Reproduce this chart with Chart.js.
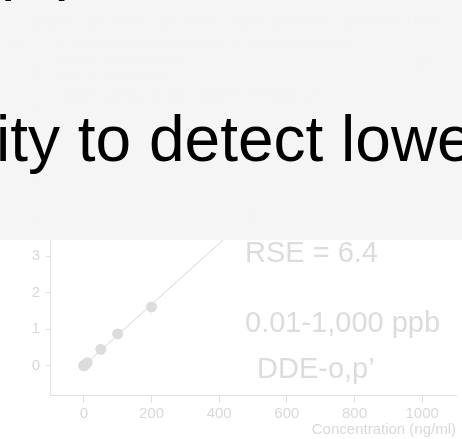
<!DOCTYPE html>
<html>
<head>
<meta charset="utf-8">
<script src="https://cdn.jsdelivr.net/npm/chart.js@4/dist/chart.umd.min.js"></script>
<style>
  html, body { margin:0; padding:0; background:#ffffff; overflow:hidden; }
  #wrap { position:relative; width:462px; height:439px; overflow:hidden; background:#fff; }
  canvas { position:absolute; left:0; top:0; }
  #overlay { position:absolute; left:0; top:0; width:462px; height:240px; background:rgba(244,244,244,0.95); overflow:hidden; }
  .sub { position:absolute; white-space:nowrap; font-family:"Liberation Sans", Arial, sans-serif; font-size:64px; line-height:64px; color:#000; }
</style>
</head>
<body>
<div id="wrap">
  <canvas id="c" width="462" height="439"></canvas>
  <div id="overlay">
    <div class="sub" id="line1" style="left:1px; top:-66px;">p peculiar in the lab, that improves</div>
    <div class="sub" id="line2" style="left:-4px; top:107px;">ity to detect lower</div>
  </div>
</div>
<script>
// ---- data ----
const concentrations = [0.01, 0.1, 1, 5, 10, 50, 100, 200, 500, 1000];
const responses      = [0.0, 0.0, 0.01, 0.04, 0.08, 0.45, 0.87, 1.61, 4.15, 8.27];
const fitX = [0.01, 1100];
const fitY = [0.0, 9.2];
const xTicks = [0, 200, 400, 600, 800, 1000];
const yTicks = [0, 1, 2, 3, 4, 5, 6, 7, 8];
const headerTitle = "...ample - 10 Levels, 10 Levels Used, 10 Points, 10 Points Used,";
const equationLines = ["y = 8.3525807219E-003 * x + 0.0145523086", "R^2 = 0.99898458", "R = 0.99949204", "Type: Linear, Origin: Ignore, Weight: 1/x"];
const annotations = ["RSE = 6.4", "0.01-1,000 ppb", "DDE-o,p\u2019"];
const xTitle = "Concentration (ng/ml)";

const FONT = "'Liberation Sans', Arial, sans-serif";
const TXT = '#d9d9d9';
const AX = '#e0e0e0';

const textPlugin = {
  id: 'texts',
  afterDraw(chart) {
    const ctx = chart.ctx;
    const a = chart.chartArea;
    ctx.save();
    ctx.fillStyle = TXT;
    ctx.textBaseline = 'alphabetic';
    // header (under overlay)
    ctx.font = '15px ' + FONT;
    ctx.textAlign = 'right';
    ctx.fillText(headerTitle, 446, 27);
    ctx.textAlign = 'left';
    ctx.font = '14px ' + FONT;
    ctx.fillText('x10', 5, 50);
    ctx.font = '10px ' + FONT;
    ctx.fillText('1', 35, 42);
    ctx.font = '15px ' + FONT;
    const eqY = [48, 66, 82, 100];
    equationLines.forEach((t, i) => ctx.fillText(t, a.left + 10, eqY[i]));
    // annotations
    ctx.fillStyle = '#dcdcdc';
    ctx.font = '29px ' + FONT;
    ctx.fillText(annotations[0], 245, 262);
    ctx.fillText(annotations[1], 245, 332);
    ctx.fillText(annotations[2], 257, 378);
    ctx.restore();
  }
};

new Chart(document.getElementById('c'), {
  type: 'scatter',
  data: {
    datasets: [
      {
        label: 'points',
        data: concentrations.map((x, i) => ({ x, y: responses[i] })),
        pointRadius: 5.5,
        pointHoverRadius: 5.5,
        backgroundColor: '#dcdcdc',
        borderWidth: 0,
        order: 1
      },
      {
        label: 'fit',
        data: fitX.map((x, i) => ({ x, y: fitY[i] })),
        showLine: true,
        pointRadius: 0,
        borderColor: '#d4d4d4',
        borderWidth: 1,
        order: 2
      }
    ]
  },
  options: {
    responsive: false,
    animation: false,
    events: [],
    layout: { padding: { top: 33, right: 6, left: 0, bottom: 0 } },
    plugins: { legend: { display: false }, tooltip: { enabled: false } },
    scales: {
      x: {
        type: 'linear',
        min: -100, max: 1100,
        afterBuildTicks: s => { s.ticks = xTicks.map(v => ({ value: v })); },
        afterFit: s => { s.height = 44; },
        border: { color: AX, width: 1 },
        grid: { drawOnChartArea: false, drawTicks: true, tickLength: 8, color: AX },
        ticks: { color: TXT, font: { size: 15, family: FONT }, padding: 2, maxRotation: 0, callback: v => String(v) },
        title: { display: true, text: xTitle, align: 'end', color: TXT, font: { size: 15, family: FONT }, padding: { top: 0, bottom: 0 } }
      },
      y: {
        type: 'linear',
        min: -0.8, max: 9.1,
        afterBuildTicks: s => { s.ticks = yTicks.map(v => ({ value: v })); },
        afterFit: s => { s.width = 50; },
        border: { color: AX, width: 1 },
        grid: { drawOnChartArea: false, drawTicks: true, tickLength: 4, color: AX },
        ticks: { color: TXT, font: { size: 15, family: FONT }, padding: 6, callback: v => String(v) }
      }
    }
  },
  plugins: [textPlugin]
});
</script>
</body>
</html>
